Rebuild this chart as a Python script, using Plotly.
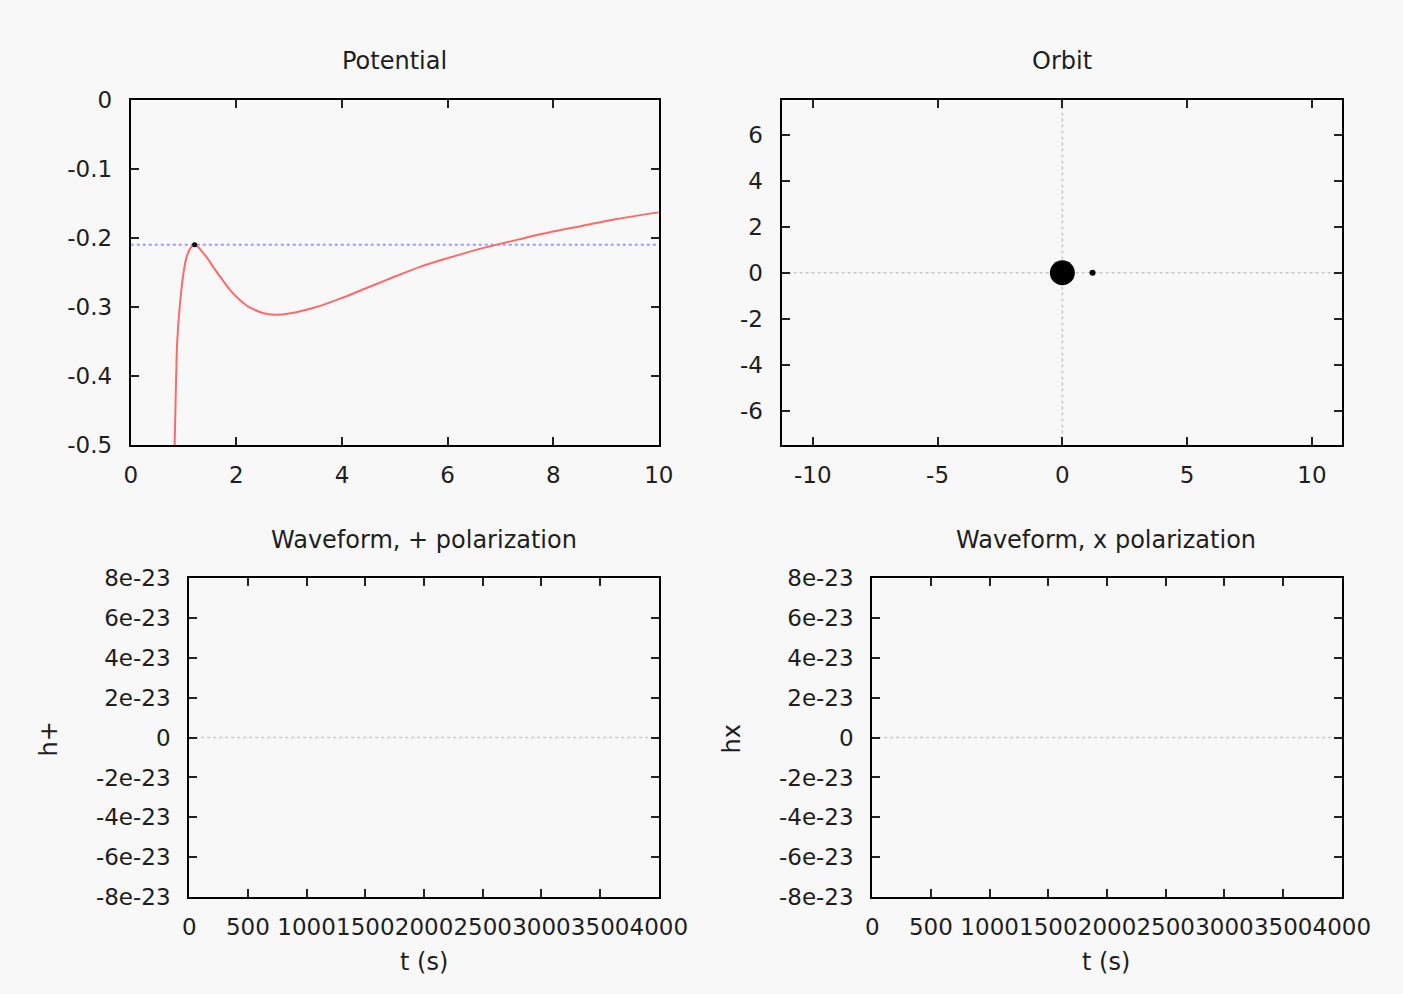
import plotly.graph_objects as go

# ---------------- data ----------------
# Potential curve
pot_r = [0.83, 0.84, 0.86, 0.88, 0.93, 1.00, 1.06, 1.12, 1.17, 1.21, 1.26, 1.33, 1.43, 1.58,
         1.73, 1.88, 2.04, 2.20, 2.35, 2.52, 2.72, 3.0, 3.5, 4.0, 4.5, 4.87, 5.49, 6.10,
         6.72, 7.33, 7.95, 8.56, 9.18, 10.0]
pot_v = [-0.500, -0.470, -0.400, -0.350, -0.297, -0.250, -0.227, -0.216, -0.211, -0.210,
         -0.212, -0.218, -0.227, -0.244, -0.260, -0.275, -0.288, -0.298, -0.304, -0.309,
         -0.311, -0.3093, -0.3003, -0.2868, -0.2713, -0.2600, -0.2415, -0.227, -0.2136,
         -0.2024, -0.1915, -0.1822, -0.1728, -0.163]
energy_level = -0.210
particle_r = [1.21]
particle_v = [-0.210]

# Orbit
bh_x, bh_y = [0.0], [0.0]
orb_x, orb_y = [1.21], [0.0]

# Waveforms (empty at this frame)
wave_t = []
wave_hplus = []
wave_hx = []

pot_xticks = [0, 2, 4, 6, 8, 10]
pot_xtext = ["0", "2", "4", "6", "8", "10"]
pot_yticks = [0, -0.1, -0.2, -0.3, -0.4, -0.5]
pot_ytext = ["0", "-0.1", "-0.2", "-0.3", "-0.4", "-0.5"]
orb_xticks = [-10, -5, 0, 5, 10]
orb_xtext = ["-10", "-5", "0", "5", "10"]
orb_yticks = [-6, -4, -2, 0, 2, 4, 6]
orb_ytext = ["-6", "-4", "-2", "0", "2", "4", "6"]
wave_xticks = [0, 500, 1000, 1500, 2000, 2500, 3000, 3500, 4000]
wave_xtext = ["0", "500", "1000", "1500", "2000", "2500", "3000", "3500", "4000"]
wave_yticks = [8e-23, 6e-23, 4e-23, 2e-23, 0, -2e-23, -4e-23, -6e-23, -8e-23]
wave_ytext = ["8e-23", "6e-23", "4e-23", "2e-23", "0", "-2e-23", "-4e-23", "-6e-23", "-8e-23"]

# ---------------- figure ----------------
W, H = 1403, 994
SHIFT_X = 11
FONT = "DejaVu Sans, Verdana, sans-serif"
TXT = "#1e1e1e"
FS = 23

def px_x(p):
    return (p + SHIFT_X) / W

def px_y(p):
    return 1 - p / H

fig = go.Figure()

# Potential
fig.add_trace(go.Scatter(x=[0, 10], y=[energy_level, energy_level], mode="lines",
                         line=dict(color="#9a9aff", width=2, dash="dot"),
                         xaxis="x", yaxis="y", showlegend=False, hoverinfo="skip"))
fig.add_trace(go.Scatter(x=pot_r, y=pot_v, mode="lines",
                         line=dict(color="#ff6a6a", width=2, shape="spline", smoothing=1.0),
                         xaxis="x", yaxis="y", showlegend=False))
fig.add_trace(go.Scatter(x=particle_r, y=particle_v, mode="markers",
                         marker=dict(color="black", size=5), xaxis="x", yaxis="y", showlegend=False))

# Orbit
fig.add_trace(go.Scatter(x=bh_x, y=bh_y, mode="markers", marker=dict(color="black", size=25),
                         xaxis="x2", yaxis="y2", showlegend=False))
fig.add_trace(go.Scatter(x=orb_x, y=orb_y, mode="markers", marker=dict(color="black", size=6),
                         xaxis="x2", yaxis="y2", showlegend=False))

# Waveforms
fig.add_trace(go.Scatter(x=wave_t, y=wave_hplus, mode="lines", line=dict(color="#ff6a6a", width=2),
                         xaxis="x3", yaxis="y3", showlegend=False))
fig.add_trace(go.Scatter(x=wave_t, y=wave_hx, mode="lines", line=dict(color="#ff6a6a", width=2),
                         xaxis="x4", yaxis="y4", showlegend=False))

axis_common = dict(showline=True, linecolor="black", linewidth=2, mirror="ticks",
                   ticks="inside", ticklen=8, tickwidth=2, tickcolor="#222",
                   showgrid=False, zeroline=False, tickangle=0,
                   tickfont=dict(family=FONT, size=FS, color=TXT))
XSO, YSO = 8, 12

layout = dict(
    width=W, height=H, margin=dict(l=0, r=0, t=0, b=0),
    paper_bgcolor="#f8f8f8", plot_bgcolor="rgba(0,0,0,0)",
    font=dict(family=FONT, size=FS, color=TXT),
    xaxis=dict(axis_common, domain=[px_x(116), px_x(658)], range=[0, 10],
               tickvals=pot_xticks, ticktext=pot_xtext, anchor="y", ticklabelstandoff=XSO),
    yaxis=dict(axis_common, domain=[px_y(444), px_y(89)], range=[-0.5, 0],
               tickvals=pot_yticks, ticktext=pot_ytext, anchor="x", ticklabelstandoff=YSO),
    xaxis2=dict(axis_common, domain=[px_x(784), px_x(1359)], range=[-11.25, 11.2],
                tickvals=orb_xticks, ticktext=orb_xtext, anchor="y2", ticklabelstandoff=XSO),
    yaxis2=dict(axis_common, domain=[px_y(444), px_y(89)], range=[-7.5, 7.52],
                tickvals=orb_yticks, ticktext=orb_ytext, anchor="x2", ticklabelstandoff=YSO),
    xaxis3=dict(axis_common, domain=[px_x(176), px_x(658)], range=[0, 4000],
                tickvals=wave_xticks, ticktext=wave_xtext, anchor="y3", ticklabelstandoff=XSO),
    yaxis3=dict(axis_common, domain=[px_y(908), px_y(580)], range=[-8e-23, 8e-23],
                tickvals=wave_yticks, ticktext=wave_ytext, anchor="x3", ticklabelstandoff=YSO),
    xaxis4=dict(axis_common, domain=[px_x(877), px_x(1359)], range=[0, 4000],
                tickvals=wave_xticks, ticktext=wave_xtext, anchor="y4", ticklabelstandoff=XSO),
    yaxis4=dict(axis_common, domain=[px_y(908), px_y(580)], range=[-8e-23, 8e-23],
                tickvals=wave_yticks, ticktext=wave_ytext, anchor="x4", ticklabelstandoff=YSO),
)

zero_line = dict(color="#c8c8c8", width=1.5, dash="dot")
layout["shapes"] = [
    dict(type="line", xref="x2 domain", yref="y2", x0=0, x1=1, y0=0, y1=0, line=zero_line, layer="below"),
    dict(type="line", xref="x2", yref="y2 domain", x0=0, x1=0, y0=0, y1=1, line=zero_line, layer="below"),
    dict(type="line", xref="x3 domain", yref="y3", x0=0, x1=1, y0=0, y1=0, line=zero_line, layer="below"),
    dict(type="line", xref="x4 domain", yref="y4", x0=0, x1=1, y0=0, y1=0, line=zero_line, layer="below"),
]

def ann(text, x, y, angle=0, size=FS):
    return dict(text=text, x=px_x(x), y=px_y(y), xref="paper", yref="paper", showarrow=False,
                xanchor="center", yanchor="middle", textangle=angle,
                font=dict(family=FONT, size=size, color=TXT))

layout["annotations"] = [
    ann("Potential", 387, 49, size=24),
    ann("Orbit", 1072, 49, size=24),
    ann("Waveform, + polarization", 417, 541, size=24),
    ann("Waveform, x polarization", 1117, 541, size=24),
    ann("t (s)", 417, 974, size=24),
    ann("t (s)", 1117, 974, size=24),
    ann("h+", 32, 745, -90, size=24),
    ann("hx", 733, 745, -90, size=24),
]

fig.update_layout(**layout)
fig.write_html("out.html")
